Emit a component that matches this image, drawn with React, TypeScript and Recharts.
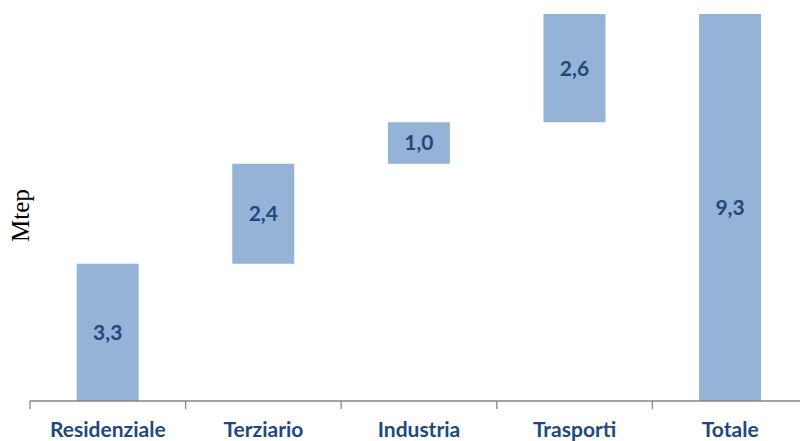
import { BarChart, Bar, XAxis, YAxis, LabelList } from "recharts";

const categories = ["Residenziale", "Terziario", "Industria", "Trasporti", "Totale"];
const values = [3.3, 2.4, 1.0, 2.6, 9.3];
const isTotal = [false, false, false, false, true];

// invisible base for the floating steps
let running = 0;
const data = categories.map((name, i) => {
  const base = isTotal[i] ? 0 : running;
  if (!isTotal[i]) running += values[i];
  return { name, base, value: values[i] };
});

const BAR = "#95B3D7";
const TEXT = "#1F497D";
const AXIS = "#868686";

function CategoryTick(props: any) {
  const { x, y, payload, index } = props;
  const half = payload.offset || 0;
  return (
    <g>
      <line x1={x - half} y1={y} x2={x - half} y2={y + 8} stroke={AXIS} strokeWidth={1.3} />
      {index === categories.length - 1 && (
        <line x1={x + half} y1={y} x2={x + half} y2={y + 8} stroke={AXIS} strokeWidth={1.3} />
      )}
      <text
        x={x}
        y={y + 36}
        textAnchor="middle"
        fill={TEXT}
        fontFamily="Lato, sans-serif"
        fontWeight={700}
        fontSize={21}
      >
        {payload.value}
      </text>
    </g>
  );
}

export default function App() {
  return (
    <div
      style={{
        position: "absolute",
        left: 0,
        top: 0,
        width: 800,
        height: 441,
        overflow: "hidden",
        background: "#fff",
      }}
    >
      <BarChart
        width={822}
        height={441}
        data={data}
        margin={{ top: 14, right: 14, bottom: 0, left: 0 }}
        barCategoryGap="30%"
      >
        <YAxis
          width={30}
          domain={[0, 9.3]}
          tick={false}
          axisLine={false}
          tickLine={false}
          label={({ viewBox }: any) => {
            const cx = viewBox.x + 29;
            const cy = viewBox.y + viewBox.height / 2 + 8;
            return (
              <text
                x={cx}
                y={cy}
                transform={`rotate(-90, ${cx}, ${cy})`}
                textAnchor="middle"
                fontFamily="'Liberation Serif', serif"
                fontSize={25}
                fill="#000"
              >
                Mtep
              </text>
            );
          }}
        />
        <XAxis
          dataKey="name"
          height={40}
          axisLine={{ stroke: AXIS, strokeWidth: 1.3 }}
          tickLine={false}
          tickSize={0}
          tickMargin={0}
          interval={0}
          tick={<CategoryTick />}
        />
        <Bar dataKey="base" stackId="w" fill="transparent" isAnimationActive={false} />
        <Bar dataKey="value" stackId="w" fill={BAR} isAnimationActive={false}>
          <LabelList
            dataKey="value"
            position="center"
            formatter={(v: any) => Number(v).toFixed(1).replace(".", ",")}
            fill={TEXT}
            fontFamily="Lato, sans-serif"
            fontWeight={700}
            fontSize={21}
          />
        </Bar>
      </BarChart>
    </div>
  );
}
